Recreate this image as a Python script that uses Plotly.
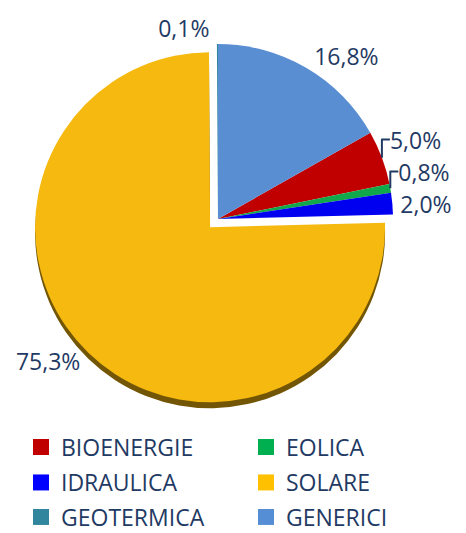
import plotly.graph_objects as go

categories = ["BIOENERGIE", "EOLICA", "IDRAULICA", "SOLARE", "GEOTERMICA", "GENERICI"]
shares = [5.0, 0.8, 2.0, 75.3, 0.1, 16.8]
colors = ["#C00000", "#10A84A", "#0000F0", "#F5B90F", "#31859C", "#5A8ED2"]
legend_colors = ["#C00000", "#00B050", "#0000FF", "#FFC000", "#31859C", "#558ED5"]
pulls = [0, 0, 0, 0.065, 0, 0]
shadow_colors = ["rgba(0,0,0,0)"] * 3 + ["#735605"] + ["rgba(0,0,0,0)"] * 2

# GENERICI is the last slice but must end at 12 o'clock
rotation = shares[-1] / sum(shares) * 360

W, H = 466, 533
cx, cy, r = 218, 219, 175
half = r * (1 + max(pulls))
xdom = [(cx - half) / W, (cx + half) / W]
ydom = [(H - cy - half) / H, (H - cy + half) / H]
sh = 6 / H

TXT = "#1F3A63"

fig = go.Figure()
# dark rim under the big slice (3D edge)
fig.add_trace(go.Pie(
    labels=categories, values=shares, sort=False, direction="clockwise",
    rotation=rotation, pull=pulls,
    marker=dict(colors=shadow_colors, line=dict(width=0)),
    textinfo="none", hoverinfo="skip", showlegend=False,
    domain=dict(x=xdom, y=[ydom[0] - sh, ydom[1] - sh]),
))
fig.add_trace(go.Pie(
    labels=categories, values=shares, sort=False, direction="clockwise",
    rotation=rotation, pull=pulls,
    marker=dict(colors=colors, line=dict(width=0)),
    texttemplate="%{percent:.1%}", textposition="outside",
    outsidetextfont=dict(size=23, color=TXT, family="Open Sans"),
    showlegend=False,
    domain=dict(x=xdom, y=ydom),
))

# legend: two entries per row, one legend per row
legend_names = ["legend", "legend", "legend2", "legend2", "legend3", "legend3"]
for name, col, lg in zip(categories, legend_colors, legend_names):
    fig.add_trace(go.Scatter(
        x=[None], y=[None], mode="markers", name=name,
        marker=dict(symbol="square", size=16, color=col),
        legend=lg, showlegend=True, hoverinfo="skip",
    ))

row_centers = [447, 482.5, 517]
leg_common = dict(
    orientation="h", xanchor="left", yanchor="middle", x=21 / W,
    entrywidth=180, font=dict(size=23, color=TXT, family="Open Sans"),
    bgcolor="rgba(0,0,0,0)", traceorder="normal", itemclick=False,
)
fig.update_layout(
    width=W, height=H,
    margin=dict(l=0, r=0, t=0, b=0, autoexpand=False),
    paper_bgcolor="white", plot_bgcolor="white",
    separators=",.",
    font=dict(family="Open Sans", color=TXT),
    xaxis=dict(visible=False), yaxis=dict(visible=False),
    legend=dict(leg_common, y=1 - row_centers[0] / H),
    legend2=dict(leg_common, y=1 - row_centers[1] / H),
    legend3=dict(leg_common, y=1 - row_centers[2] / H),
)
fig.write_html(
    "out.html",
    config={"displayModeBar": False},
    post_script="document.body.style.margin='0';document.body.style.overflow='hidden';",
)
